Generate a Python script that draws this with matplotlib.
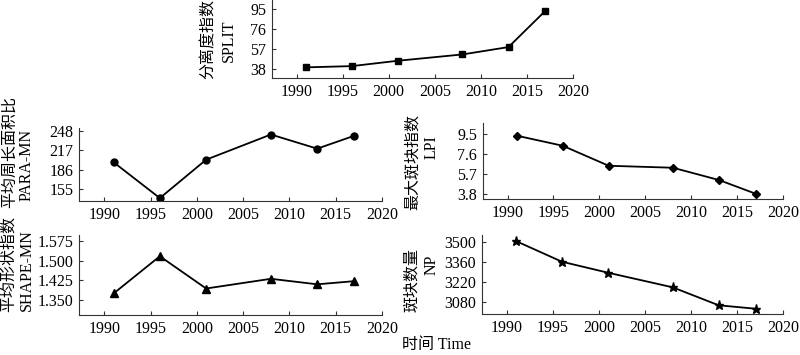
import matplotlib
matplotlib.use("Agg")
import matplotlib.pyplot as plt

years = [1991, 1996, 2001, 2008, 2013, 2017]
split_vals = [39.9, 41.1, 46.2, 52.2, 59.2, 93.7]
para_vals = [198, 141, 202, 242, 219.5, 240]
lpi_vals = [9.34, 8.38, 6.47, 6.28, 5.11, 3.80]
shape_vals = [1.375, 1.517, 1.394, 1.431, 1.410, 1.422]
np_vals = [3509, 3364, 3287, 3185, 3059, 3035]

xticks = [1990, 1995, 2000, 2005, 2010, 2015, 2020]
split_ticks = [38, 57, 76, 95]
para_ticks = [155, 186, 217, 248]
lpi_ticks = [3.8, 5.7, 7.6, 9.5]
shape_ticks = [1.350, 1.425, 1.500, 1.575]
np_ticks = [3080, 3220, 3360, 3500]

W, H = 800, 355
fig = plt.figure(figsize=(W / 100, H / 100), dpi=100)
SERIF = ['Liberation Serif', 'Noto Sans CJK SC']
CJK = ['Noto Sans CJK SC', 'Liberation Serif']
FS = 11.5

def add_ax(x0, x1, y0, y1):
    # pixel coords, y from top
    return fig.add_axes([x0 / W, 1 - y1 / H, (x1 - x0) / W, (y1 - y0) / H])

def style(ax, vals, marker, ms, yticks, ylim, fmt):
    ax.plot(years, vals, color='black', lw=1.3, marker=marker, ms=ms,
            mfc='black', mec='black')
    ax.set_xlim(1987.3, 2020)
    ax.set_ylim(*ylim)
    ax.set_xticks(xticks)
    ax.set_yticks(yticks)
    ax.set_yticklabels([fmt.format(v) for v in yticks])
    for s in ['top', 'right']:
        ax.spines[s].set_visible(False)
    for s in ['left', 'bottom']:
        ax.spines[s].set_linewidth(0.8)
        ax.spines[s].set_color('#333333')
    ax.tick_params(axis='both', direction='in', length=3, width=0.8,
                   labelsize=FS, color='#333333')
    ax.tick_params(axis='y', pad=4)
    ax.tick_params(axis='x', pad=4)
    for lab in ax.get_xticklabels() + ax.get_yticklabels():
        lab.set_family(SERIF)
    ax.patch.set_alpha(0)

def ylabel(cx, cy, txt, font):
    fig.text(cx / W, 1 - cy / H, txt, rotation=90, ha='center', va='center',
             fontsize=FS, family=font)

# top: SPLIT
ax1 = add_ax(271.7, 573, 0, 78.3)
style(ax1, split_vals, 's', 5, split_ticks, (29.5, 104), '{:g}')
ylabel(208, 39, '分离度指数', CJK)
ylabel(229, 41, 'SPLIT', SERIF)

# PARA-MN
ax2 = add_ax(79.3, 382, 127.7, 201)
style(ax2, para_vals, 'o', 5, para_ticks, (136.4, 252.8), '{:g}')
ylabel(9, 152, '平均周长面积比', CJK)
ylabel(27, 165, 'PARA-MN', SERIF)

# LPI
ax3 = add_ax(482.7, 783.3, 123.3, 199.3)
style(ax3, lpi_vals, 'D', 4.5, lpi_ticks, (3.27, 10.52), '{:.1f}')
ylabel(412, 162, '最大斑块指数', CJK)
ylabel(432, 147, 'LPI', SERIF)

# SHAPE-MN
ax4 = add_ax(79.3, 382, 235, 315)
style(ax4, shape_vals, '^', 5.5, shape_ticks, (1.293, 1.598), '{:.3f}')
ylabel(9, 264, '平均形状指数', CJK)
ylabel(27, 270, 'SHAPE-MN', SERIF)

# NP
ax5 = add_ax(481.7, 783.3, 235, 314.3)
style(ax5, np_vals, '*', 6.5, np_ticks, (2996, 3551), '{:g}')
ylabel(412, 280, '斑块数量', CJK)
ylabel(432, 265, 'NP', SERIF)

fig.text(437 / W, 1 - 345 / H, '时间 Time', ha='center', va='center',
         fontsize=FS, family=SERIF)

fig.savefig('out.png', dpi=100)
